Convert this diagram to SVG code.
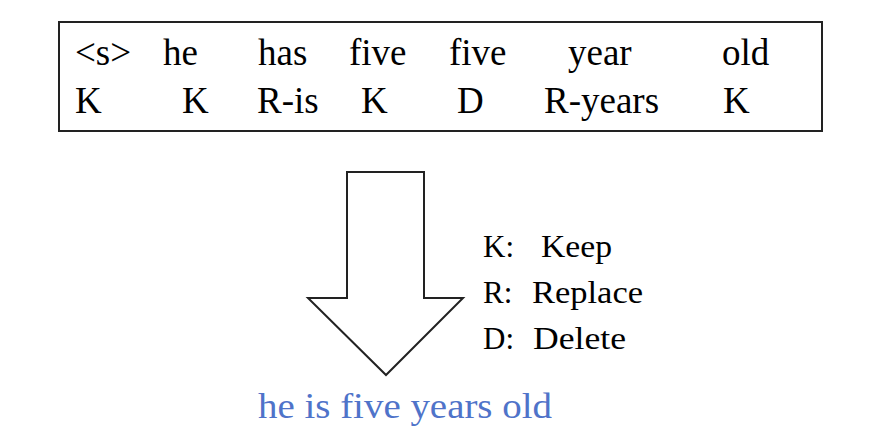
<svg xmlns="http://www.w3.org/2000/svg" width="893" height="448" viewBox="0 0 893 448">
<style>
  .t { font-family: "Liberation Serif", "Times New Roman", serif; font-size: 37px; fill: #000; }
  .l { font-family: "Liberation Serif", "Times New Roman", serif; font-size: 31px; fill: #000; }
  .o { font-family: "Liberation Serif", "Times New Roman", serif; font-size: 35px; fill: #4f73c9; }
  .shape { fill: #fff; stroke: #222; stroke-width: 2; }
</style>
<rect width="893" height="448" fill="#fff"/>
<g id="input-box">
  <rect class="shape" x="59" y="22" width="763" height="109" stroke="#333" stroke-width="2.5"/>
  <text class="t" x="75" y="65">&lt;s&gt;</text>
  <text class="t" x="163" y="65">he</text>
  <text class="t" x="258" y="65">has</text>
  <text class="t" x="349" y="65">five</text>
  <text class="t" x="449" y="65">five</text>
  <text class="t" x="568" y="65">year</text>
  <text class="t" x="722" y="65">old</text>
  <text class="t" x="75" y="113">K</text>
  <text class="t" x="182" y="113">K</text>
  <text class="t" x="257" y="113">R-is</text>
  <text class="t" x="361" y="113">K</text>
  <text class="t" x="457" y="113">D</text>
  <text class="t" x="544" y="113">R-years</text>
  <text class="t" x="723" y="113">K</text>
</g>
<g id="connectors">
  <path id="down-arrow" class="shape" d="M347,172 L424,172 L424,298 L463,298 L386,375 L308,298 L347,298 Z"/>
</g>
<g id="legend">
  <text class="l" x="483" y="257">K:</text>
  <text class="l" x="541" y="257" textLength="71" lengthAdjust="spacingAndGlyphs">Keep</text>
  <text class="l" x="483" y="303">R:</text>
  <text class="l" x="532" y="303" textLength="111" lengthAdjust="spacingAndGlyphs">Replace</text>
  <text class="l" x="483" y="349">D:</text>
  <text class="l" x="533" y="349" textLength="93" lengthAdjust="spacingAndGlyphs">Delete</text>
</g>
<g id="output">
  <text class="o" x="258" y="418" textLength="294" lengthAdjust="spacingAndGlyphs">he is five years old</text>
</g>
</svg>
